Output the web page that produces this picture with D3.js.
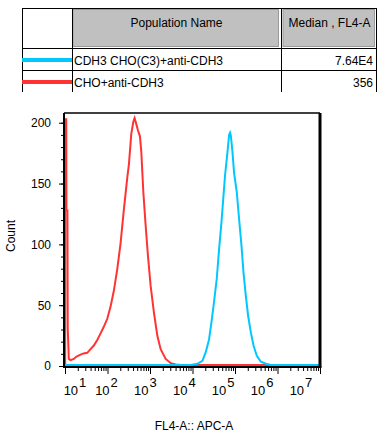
<html>
<head>
<script src="https://d3js.org/d3.v7.min.js"></script>
<style>
  body { margin: 0; background: #fff; }
  svg text { font-family: "Liberation Sans", Arial, sans-serif; fill: #000; }
</style>
</head>
<body>
<svg id="chart" width="384" height="443"></svg>
<script>
// legend table
const headers = ["Population Name", "Median , FL4-A"];
const populations = ["CDH3 CHO(C3)+anti-CDH3", "CHO+anti-CDH3"];
const medians = ["7.64E4", "356"];
const colors = ["#00c8ff", "#ff3333"];

// histogram traces, [FL4-A value, count]
const cdh3Trace = [
  [10, 0], [9000, 0], [13060, 1], [17140, 3.5], [20480, 10.5], [24490, 21], [27910, 35],
  [32140, 52], [37230, 71], [42170, 95], [47990, 117], [53550, 139], [58350, 156],
  [66500, 175], [72500, 189], [76500, 191], [79550, 189], [87300, 175], [95100, 158],
  [110200, 142], [124800, 120], [142200, 98], [158500, 76], [179600, 57], [203400, 40.5],
  [235300, 27], [272700, 16], [326100, 7.6], [405200, 2.7], [531700, 1], [697000, 0], [1e7, 0]
];
const choTrace = [
  [10.1, 0], [10.15, 202], [10.7, 202], [10.8, 127], [11.4, 127], [11.6, 30], [12.3, 5],
  [13.5, 4], [16.1, 5], [18.7, 7], [23.2, 8.5], [27.3, 9.5], [33.3, 10], [39.9, 13],
  [47.7, 16], [58.3, 21], [68.7, 26], [80.8, 31], [98.8, 38], [118, 48], [141, 61],
  [170, 79], [203, 100], [243, 128], [292, 154], [319, 165], [363, 190], [405, 200],
  [434, 203], [485, 197], [520, 193], [580, 188], [625, 175], [697, 142], [789, 115],
  [894, 90], [1035, 65], [1238, 43], [1489, 24], [1781, 13], [2339, 5], [3069, 1.5],
  [4020, 0.5], [5270, 0], [1e7, 0]
];

const yTicks = [0, 50, 100, 150, 200];
const xDecades = [1, 2, 3, 4, 5, 6, 7];

const svg = d3.select("svg#chart");

// ---- table ----
const tLeft = 22, tRight = 376, tTop = 8, colA = 72, colB = 281, headBottom = 48, rowH = 22;
const tBottom = headBottom + rowH * populations.length;
const table = svg.append("g");

table.append("rect").attr("x", colA + 1).attr("y", tTop + 1.5)
  .attr("width", colB - colA - 3.5).attr("height", headBottom - tTop - 3)
  .attr("fill", "#c0c0c0").attr("stroke", "#9a9a9a");
table.append("rect").attr("x", colB + 2).attr("y", tTop + 1.5)
  .attr("width", tRight - colB - 3.5).attr("height", headBottom - tTop - 3)
  .attr("fill", "#c0c0c0").attr("stroke", "#9a9a9a");

const hLines = [tTop, headBottom, headBottom + rowH];
table.selectAll("line.h").data(hLines).join("line")
  .attr("x1", tLeft).attr("x2", tRight)
  .attr("y1", d => d + 0.5).attr("y2", d => d + 0.5)
  .attr("stroke", "#000");
table.selectAll("line.v").data([tLeft, colA, colB, tRight]).join("line")
  .attr("x1", d => d + 0.5).attr("x2", d => d + 0.5)
  .attr("y1", tTop).attr("y2", tBottom)
  .attr("stroke", "#000");

table.append("text").attr("x", (colA + colB) / 2).attr("y", 27)
  .attr("text-anchor", "middle").style("font-size", "12px").text(headers[0]);
table.append("text").attr("x", (colB + tRight) / 2 + 1).attr("y", 27)
  .attr("text-anchor", "middle").style("font-size", "12px").text(headers[1]);

populations.forEach((p, i) => {
  const cy = headBottom + rowH * i + rowH / 2 + 1;
  table.append("line").attr("x1", tLeft).attr("x2", colA)
    .attr("y1", cy).attr("y2", cy)
    .attr("stroke", colors[i]).attr("stroke-width", 4);
  table.append("text").attr("x", colA + 2).attr("y", cy + 4.5)
    .style("font-size", "12px").text(p);
  table.append("text").attr("x", tRight - 3).attr("y", cy + 4.5)
    .attr("text-anchor", "end").style("font-size", "12px").text(medians[i]);
});

// ---- histogram ----
const plot = { left: 65, right: 320, top: 113, bottom: 366 };
const x = d3.scaleLog().domain([10, 1e7]).range([plot.left, plot.right]);
const y = d3.scaleLinear().domain([0, 208]).range([plot.bottom, plot.top]);

const line = d3.line().x(d => x(d[0])).y(d => y(d[1]) - 1);

svg.append("path").datum(choTrace)
  .attr("fill", "none").attr("stroke", colors[1]).attr("stroke-width", 2)
  .attr("d", line);
svg.append("path").datum(cdh3Trace)
  .attr("fill", "none").attr("stroke", colors[0]).attr("stroke-width", 2)
  .attr("d", line);

// frame
svg.append("line").attr("x1", plot.left - 1).attr("x2", plot.right)
  .attr("y1", plot.top).attr("y2", plot.top).attr("stroke", "#000").attr("stroke-width", 1.5);
svg.append("line").attr("x1", plot.right).attr("x2", plot.right)
  .attr("y1", plot.top).attr("y2", plot.bottom + 1).attr("stroke", "#000").attr("stroke-width", 3);

// y axis
const minorY = d3.range(0, 210, 10);
const yAxis = svg.append("g").attr("transform", `translate(${plot.left - 1},0)`);
yAxis.append("g")
  .call(d3.axisLeft(y).tickValues(minorY).tickSize(3).tickFormat(""))
  .call(g => g.select(".domain").remove());
yAxis.append("g")
  .call(d3.axisLeft(y).tickValues(yTicks).tickSize(5).tickPadding(8))
  .call(g => g.select(".domain").remove())
  .call(g => g.selectAll("text").style("font-size", "12px")
    .style("font-family", '"Liberation Sans", Arial, sans-serif'));
yAxis.append("line").attr("x1", 0).attr("x2", 0)
  .attr("y1", plot.top).attr("y2", plot.bottom + 1)
  .attr("stroke", "#000").attr("stroke-width", 2);

// x axis
const minorX = [];
xDecades.slice(0, -1).forEach(k => {
  for (let m = 2; m <= 9; m++) minorX.push(m * Math.pow(10, k));
});
const xAxis = svg.append("g").attr("transform", `translate(0,${plot.bottom + 1})`);
xAxis.append("g")
  .call(d3.axisBottom(x).tickValues(minorX).tickSize(4).tickFormat(""))
  .call(g => g.select(".domain").remove());
xAxis.append("g")
  .call(d3.axisBottom(x).tickValues(xDecades.map(k => Math.pow(10, k))).tickSize(7).tickFormat(""))
  .call(g => g.select(".domain").remove());
xAxis.append("line").attr("x1", plot.left - 2).attr("x2", plot.right + 1.5)
  .attr("y1", 0).attr("y2", 0).attr("stroke", "#000").attr("stroke-width", 2);

// decade labels sit a little left of their ticks, first one pushed inside
const labelX = d3.scaleLog().domain([1e2, 1e7]).range([x(1e2) + 1, x(1e7) - 17]);
xDecades.forEach(k => {
  const cx = Math.max(labelX(Math.pow(10, k)), plot.left + 12);
  const t = svg.append("text").attr("x", cx - 2).attr("y", 395)
    .attr("text-anchor", "middle").style("font-size", "13px");
  t.append("tspan").text("10");
  t.append("tspan").attr("dy", -8).attr("dx", 1).text(k);
});

// axis titles
svg.append("text").attr("x", 194).attr("y", 430)
  .attr("text-anchor", "middle").style("font-size", "12px").text("FL4-A:: APC-A");
svg.append("text").attr("transform", "translate(15,236) rotate(-90)")
  .attr("text-anchor", "middle").style("font-size", "12px").text("Count");
</script>
</body>
</html>
